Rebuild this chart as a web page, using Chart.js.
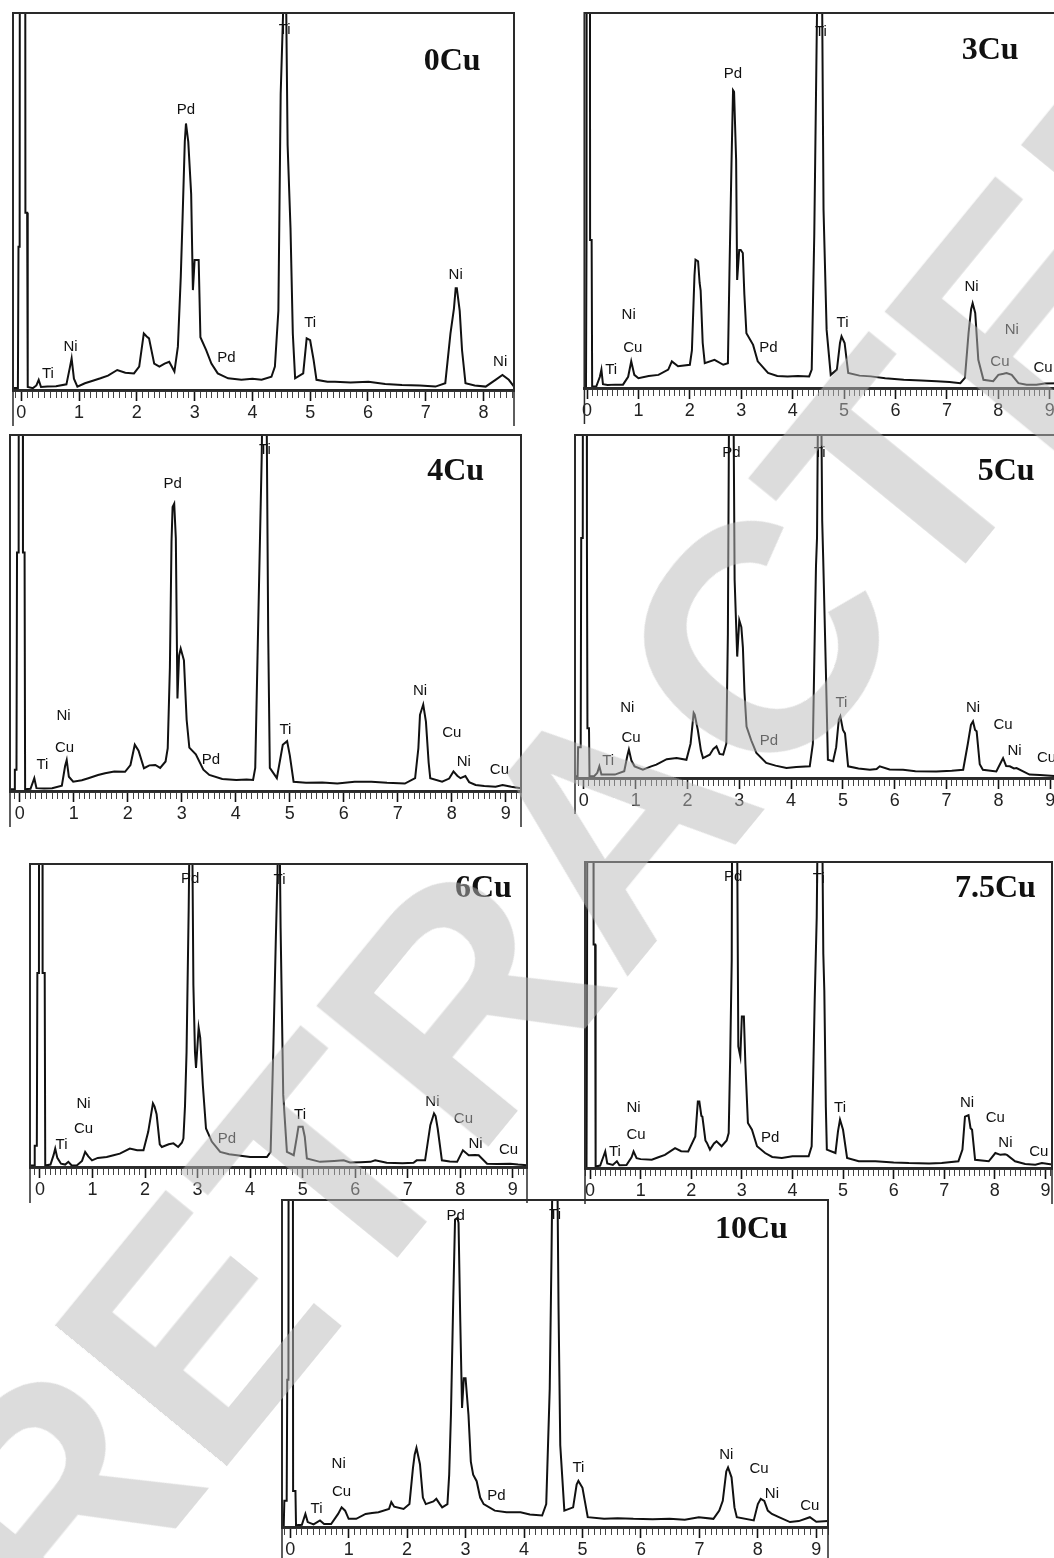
<!DOCTYPE html>
<html>
<head>
<meta charset="utf-8">
<script src="https://cdn.jsdelivr.net/npm/chart.js@4.4.1/dist/chart.umd.min.js"></script>
<style>
  body { margin: 0; width: 1054px; height: 1558px; position: relative; overflow: hidden; background: #fff; }
  .panel { position: absolute; }
  .panel canvas { display: block; }
  #watermark {
    position: absolute; left: 610px; top: 822px;
    transform: translate(-50%, -50%) rotate(-50.7deg);
    font-family: "Liberation Sans", Arial, sans-serif; font-weight: bold; font-size: 323px;
    color: rgba(185, 185, 185, 0.5); white-space: nowrap; pointer-events: none; line-height: 1;
  }
</style>
</head>
<body>
<div class="panel" id="p0"><canvas id="c0"></canvas></div>
<div class="panel" id="p1"><canvas id="c1"></canvas></div>
<div class="panel" id="p2"><canvas id="c2"></canvas></div>
<div class="panel" id="p3"><canvas id="c3"></canvas></div>
<div class="panel" id="p4"><canvas id="c4"></canvas></div>
<div class="panel" id="p5"><canvas id="c5"></canvas></div>
<div class="panel" id="p6"><canvas id="c6"></canvas></div>
<div id="watermark">RETRACTED</div>
<script>
// EDS spectra, [energy keV, counts] (100 = top of the box, higher peaks are cut)
const spec0Cu = [[-0.145,0.5],[-0.06,0.5],[-0.05,38],[-0.03,38],[-0.02,300],[0.06,300],[0.07,47],[0.1,47],[0.11,0.8],[0.2,0.5],[0.26,1.2],[0.3,2.7],[0.34,0.8],[0.45,0.9],[0.6,1],[0.78,1.5],[0.84,6],[0.87,8.4],[0.91,3],[0.97,0.9],[1.1,1.8],[1.25,2.5],[1.37,3.1],[1.5,3.8],[1.66,5.3],[1.8,4.6],[1.95,4.4],[2.04,6.2],[2.12,15],[2.17,14.2],[2.21,13.7],[2.3,7],[2.39,6.2],[2.48,7],[2.56,7.5],[2.65,4.9],[2.71,11.5],[2.76,30],[2.79,45],[2.83,66],[2.85,70.7],[2.89,65.8],[2.94,52],[2.97,26.5],[3.0,34.5],[3.07,34.5],[3.1,14],[3.2,10.6],[3.29,7],[3.4,4.4],[3.58,3.1],[3.81,2.7],[4.0,3],[4.16,2.7],[4.33,3.5],[4.39,6.2],[4.45,21],[4.49,78.6],[4.53,99],[4.56,130],[4.58,110],[4.61,65],[4.66,43],[4.7,15],[4.74,3.1],[4.88,4.4],[4.94,13.7],[5.0,13.2],[5.06,8],[5.11,2.7],[5.3,2.2],[5.43,2.2],[5.7,2],[6.01,2.2],[6.3,1.6],[6.59,1.3],[6.9,1.2],[7.17,0.9],[7.34,1.8],[7.43,15],[7.49,21.6],[7.52,27],[7.54,27],[7.59,21],[7.63,10.6],[7.69,1.8],[7.85,1.2],[8.04,0.9],[8.21,2.7],[8.33,4],[8.44,2.7],[8.53,0.9]];
const spec3Cu = [[-0.05,0.4],[-0.02,0.4],[-0.01,39.5],[0.0,300],[0.05,300],[0.06,39.5],[0.09,39.5],[0.1,0.4],[0.18,0.4],[0.25,3],[0.28,4.9],[0.31,1],[0.4,0.8],[0.55,0.9],[0.7,0.9],[0.8,3],[0.86,7.1],[0.92,3.5],[1.0,2.6],[1.2,3.2],[1.39,3.5],[1.58,4.9],[1.65,7.1],[1.77,5.8],[2.0,6.2],[2.04,10],[2.09,30],[2.11,34.2],[2.16,33.8],[2.19,28],[2.21,26],[2.25,12],[2.29,6.6],[2.48,7.5],[2.65,6.2],[2.74,6.6],[2.77,30.6],[2.81,60],[2.84,79.4],[2.86,79],[2.9,60.8],[2.92,28.8],[2.96,36.8],[2.99,36.8],[3.03,36],[3.06,25],[3.1,14.6],[3.23,11.5],[3.32,7.1],[3.52,4],[3.7,3.2],[3.9,3.1],[4.1,3.2],[4.32,3.1],[4.37,4.9],[4.42,41],[4.46,85.6],[4.5,130],[4.56,130],[4.6,47.5],[4.66,15.5],[4.74,3.5],[4.86,4.9],[4.92,12],[4.95,13.8],[5.01,12],[5.08,4],[5.3,3.3],[5.52,3.1],[5.8,2.6],[6.16,2.2],[6.5,2],[6.8,1.8],[7.05,1.6],[7.26,1.3],[7.35,2.7],[7.42,14.6],[7.47,21],[7.5,22.6],[7.55,20],[7.61,7.5],[7.71,2.2],[7.9,1.8],[8.0,3.5],[8.1,3.8],[8.16,4],[8.26,3.5],[8.39,1.3],[8.55,0.9],[8.74,0.9],[8.9,1.2],[9.16,1.3]];
const spec4Cu = [[-0.18,0.5],[-0.1,0.5],[-0.09,6],[-0.06,6],[-0.05,67],[-0.02,67],[-0.01,300],[0.05,300],[0.06,67],[0.09,67],[0.1,0.5],[0.2,0.6],[0.27,3.6],[0.31,0.8],[0.45,0.7],[0.6,0.8],[0.78,1.5],[0.84,7],[0.87,8.7],[0.91,4],[0.99,2.6],[1.15,3],[1.27,3.6],[1.45,4.5],[1.58,5],[1.75,5.5],[1.95,5.4],[2.05,7.3],[2.13,13],[2.2,11.3],[2.3,6.4],[2.4,7.2],[2.51,7.3],[2.6,6.5],[2.7,8.3],[2.74,12],[2.78,34.6],[2.81,70],[2.83,79.8],[2.86,80.7],[2.89,71],[2.92,26],[2.95,38],[2.98,40],[3.04,36.7],[3.09,20],[3.14,12.2],[3.26,10.3],[3.4,6],[3.51,4.5],[3.75,3.4],[4.01,3.1],[4.2,3.2],[4.32,3.1],[4.36,6.5],[4.43,58],[4.48,94],[4.51,130],[4.56,130],[4.6,44],[4.63,6.5],[4.76,3.6],[4.87,13],[4.95,14],[5.0,10],[5.07,2.6],[5.3,2.3],[5.6,2.4],[5.88,2.1],[6.2,2.6],[6.51,2.6],[6.8,2.3],[7.13,2.1],[7.32,3.6],[7.38,12],[7.41,21.4],[7.47,24.3],[7.52,19.5],[7.57,8],[7.6,3.6],[7.82,2.6],[7.95,3.5],[8.03,5.5],[8.1,4.3],[8.16,3.6],[8.25,4.2],[8.32,2.5],[8.44,1.7],[8.6,1.4],[8.81,1.2],[8.94,1.7],[9.1,1.2],[9.28,0.8]];
const spec5Cu = [[-0.17,0.5],[-0.12,0.5],[-0.11,9],[-0.06,9],[-0.05,70],[-0.02,70],[-0.01,300],[0.05,300],[0.06,70],[0.07,14.5],[0.1,14.5],[0.11,0.5],[0.2,0.5],[0.26,1.5],[0.3,3.4],[0.34,1],[0.45,1],[0.6,1],[0.78,2],[0.84,6.5],[0.87,8.3],[0.92,5],[0.98,3.4],[1.14,2.4],[1.3,3.4],[1.4,3.9],[1.6,5.5],[1.79,5.8],[1.98,5.3],[2.06,10],[2.12,19],[2.14,18.5],[2.2,14],[2.26,8],[2.3,5.8],[2.43,6.8],[2.5,8.5],[2.56,9.2],[2.62,7],[2.69,6.8],[2.75,10],[2.78,42],[2.81,130],[2.88,130],[2.91,57.8],[2.96,35.4],[3.0,46],[3.04,44],[3.07,38],[3.1,25],[3.14,15],[3.23,11],[3.33,7.3],[3.52,4.4],[3.7,3.6],[3.91,2.9],[4.1,3.2],[4.36,3.4],[4.42,10],[4.46,45],[4.48,61.7],[4.5,70],[4.53,130],[4.57,130],[4.6,75],[4.62,63.6],[4.67,32],[4.71,5.3],[4.81,4.9],[4.87,9],[4.92,17],[4.95,18],[5.0,14],[5.04,13],[5.1,3.4],[5.3,2.8],[5.52,2.4],[5.65,2.6],[5.71,3.4],[5.9,2.5],[6.16,2.4],[6.4,2],[6.8,1.9],[7.1,2.1],[7.32,2.4],[7.41,10],[7.47,15.5],[7.51,16.5],[7.55,14],[7.58,13.6],[7.64,4],[7.7,2.4],[7.96,1.9],[8.03,4],[8.09,5.8],[8.15,3.5],[8.22,3.4],[8.3,2.8],[8.35,2.9],[8.6,1],[8.8,0.9],[9.15,0.5]];
const spec6Cu = [[-0.19,0.5],[-0.11,0.5],[-0.1,7],[-0.06,7],[-0.05,64],[-0.02,64],[-0.01,300],[0.04,300],[0.05,64],[0.09,64],[0.1,0.5],[0.2,0.8],[0.26,4],[0.29,6.1],[0.33,3],[0.4,1.1],[0.48,0.8],[0.54,1.7],[0.6,0.6],[0.7,0.5],[0.8,2],[0.86,5],[0.92,3.5],[0.99,2.2],[1.1,3],[1.27,3.3],[1.4,3.9],[1.52,4.4],[1.71,6.1],[1.85,5.5],[1.97,5.5],[2.06,11.6],[2.15,21],[2.18,20],[2.22,17.4],[2.28,7.5],[2.32,6.6],[2.45,7.5],[2.54,7.8],[2.63,6.6],[2.7,8],[2.73,9.4],[2.76,20],[2.79,38],[2.83,84.7],[2.86,130],[2.89,130],[2.92,60],[2.95,38],[2.97,32.7],[3.02,46],[3.05,42.6],[3.1,27],[3.16,12.7],[3.27,8.4],[3.43,5],[3.6,4.2],[3.75,3.9],[4.0,3.3],[4.32,3.3],[4.39,5],[4.44,38],[4.49,75.9],[4.52,95.8],[4.55,130],[4.56,130],[4.58,79],[4.63,23.8],[4.7,5],[4.83,3.9],[4.89,10],[4.92,13.3],[5.0,13.3],[5.04,10],[5.08,2.8],[5.33,1.7],[5.6,2],[5.78,2.2],[5.9,1.5],[6.1,1.6],[6.29,1.7],[6.38,2.2],[6.6,1.4],[6.9,1.2],[7.11,1.4],[7.17,2.2],[7.33,2.2],[7.43,13.8],[7.5,17.7],[7.53,16.8],[7.57,12.7],[7.65,2.2],[7.8,1.8],[7.94,1.7],[8.05,5.5],[8.16,3.9],[8.28,4],[8.35,3.9],[8.51,1.1],[8.7,1],[8.95,1.1],[9.1,0.8],[9.27,0.6]];
const spec7_5Cu = [[-0.1,0.5],[-0.07,0.5],[-0.06,58],[-0.05,58],[-0.04,300],[0.06,300],[0.07,73],[0.1,73],[0.11,0.5],[0.2,0.8],[0.27,4],[0.3,5.4],[0.34,1.5],[0.45,1],[0.53,2.2],[0.58,0.9],[0.72,1],[0.82,3.5],[0.86,5.4],[0.92,3.2],[1.0,2.9],[1.22,2.7],[1.35,3.5],[1.48,4.3],[1.68,6.5],[1.8,5.5],[1.94,5.4],[2.08,10.3],[2.13,21.7],[2.16,21.7],[2.2,17],[2.22,16.8],[2.28,9],[2.31,8.2],[2.37,6],[2.45,8],[2.5,8.7],[2.6,7.1],[2.7,9],[2.74,11.4],[2.77,36.4],[2.8,68],[2.81,130],[2.9,130],[2.93,39.7],[2.97,36.4],[3.0,49.5],[3.04,49.5],[3.07,34],[3.12,14.7],[3.2,12.5],[3.3,7.1],[3.46,4.9],[3.6,3.6],[3.79,3.3],[4.0,3.8],[4.32,3.8],[4.38,7.1],[4.41,30],[4.44,54.9],[4.48,82],[4.51,130],[4.58,130],[4.61,70],[4.63,58],[4.66,20],[4.68,6],[4.85,4.9],[4.9,12],[4.94,15.8],[5.0,12.5],[5.08,3.3],[5.31,2.2],[5.64,2.2],[6.0,1.8],[6.3,1.6],[6.7,1.5],[6.95,1.6],[7.28,2.2],[7.36,6],[7.41,16.8],[7.48,17.3],[7.52,13],[7.55,12.5],[7.61,2.7],[7.88,2.2],[8.01,4.9],[8.11,4.3],[8.2,4.5],[8.24,4.3],[8.4,2.2],[8.6,1.3],[8.8,1.1],[8.93,1.6],[9.13,1.1]];
const spec10Cu = [[-0.14,0.5],[-0.11,0.5],[-0.1,8],[-0.06,8],[-0.05,45],[-0.03,45],[-0.02,300],[0.04,300],[0.05,11],[0.09,11],[0.1,0.5],[0.2,0.7],[0.26,4],[0.3,1.5],[0.4,0.8],[0.51,2],[0.58,0.9],[0.7,0.9],[0.82,4],[0.88,6],[0.94,5],[1.0,2.5],[1.13,2.5],[1.29,4],[1.4,4.3],[1.51,4.5],[1.69,5.5],[1.73,7.6],[1.78,6.2],[1.94,5.5],[2.04,7],[2.1,18],[2.13,22.2],[2.16,24.2],[2.22,19.2],[2.27,9],[2.32,7],[2.45,7.8],[2.5,8.6],[2.56,7],[2.6,6],[2.69,7],[2.72,16],[2.75,34.3],[2.79,70],[2.82,94],[2.86,94.5],[2.88,93],[2.91,62.6],[2.94,36.4],[2.97,45.5],[3.0,45.5],[3.05,34.3],[3.09,20],[3.13,16],[3.19,14],[3.25,9],[3.31,7],[3.5,5],[3.7,4.5],[3.94,4.5],[4.1,3.8],[4.31,3.5],[4.38,7],[4.44,42.4],[4.47,82.8],[4.5,130],[4.56,130],[4.59,67.7],[4.62,25],[4.69,5],[4.84,6],[4.9,13],[4.93,14.1],[5.0,12],[5.04,8],[5.09,3],[5.37,2.5],[5.6,2.7],[5.87,2.5],[6.2,2.4],[6.49,2.5],[6.75,2.2],[6.99,3],[7.24,2.5],[7.34,5],[7.4,8],[7.46,17],[7.49,18.2],[7.55,15.2],[7.6,6],[7.64,3],[7.93,2],[8.0,7],[8.05,8.6],[8.11,8],[8.17,5],[8.24,4],[8.36,3],[8.55,1.5],[8.7,1.8],[8.89,3],[9.0,1.6],[9.2,1.8]];

// peak labels: [text, energy, counts]
const peaks0Cu = [['Ti',0.46,4.4],['Ni',0.85,11.5],['Pd',2.85,74.2],['Pd',3.55,8.4],['Ti',4.56,95.4],['Ti',5.0,17.8],['Ni',7.52,30.5],['Ni',8.29,7.5]];
const peaks3Cu = [['Ti',0.47,4.9],['Ni',0.81,19.5],['Cu',0.89,10.6],['Pd',2.84,83.7],['Pd',3.53,10.6],['Ti',4.55,95],['Ti',4.97,17.5],['Ni',7.48,26.9],['Ni',8.26,15.4],['Cu',8.03,7.1],['Cu',8.87,5.3]];
const peaks4Cu = [['Ti',0.42,7.3],['Ni',0.81,21],['Cu',0.83,12],['Pd',2.83,86.4],['Pd',3.54,8.7],['Ti',4.54,95.8],['Ti',4.92,17.2],['Ni',7.41,28],['Cu',8.0,16.3],['Ni',8.22,8.3],['Cu',8.88,5.9]];
const peaks5Cu = [['Ti',0.47,4.9],['Ni',0.84,20.4],['Cu',0.91,11.7],['Pd',2.85,94.7],['Pd',3.57,10.7],['Ti',4.55,94.7],['Ti',4.97,21.8],['Ni',7.51,20.4],['Cu',8.09,15.5],['Ni',8.31,7.8],['Cu',8.93,5.8]];
const peaks6Cu = [['Ti',0.41,7.2],['Ni',0.83,21],['Cu',0.83,12.7],['Pd',2.86,95.2],['Pd',3.56,9.4],['Ti',4.56,94.7],['Ti',4.95,17.2],['Ni',7.47,21.6],['Cu',8.06,16],['Ni',8.29,7.8],['Cu',8.92,5.5]];
const peaks7_5Cu = [['Ti',0.49,5.4],['Ni',0.86,19.6],['Cu',0.91,10.9],['Pd',2.83,95.1],['Pd',3.56,9.8],['Ti',4.52,94.6],['Ti',4.94,19.6],['Ni',7.45,21.2],['Cu',8.01,16.3],['Ni',8.21,8.2],['Cu',8.87,5.4]];
const peaks10Cu = [['Ti',0.45,5.6],['Ni',0.83,19.2],['Cu',0.88,10.6],['Pd',2.83,95.2],['Pd',3.53,9.6],['Ti',4.53,95.5],['Ti',4.93,18.2],['Ni',7.46,22.2],['Cu',8.02,17.7],['Ni',8.24,10.1],['Cu',8.89,6.6]];

const sampleNames = ['0Cu', '3Cu', '4Cu', '5Cu', '6Cu', '7.5Cu', '10Cu'];
// where each sample name sits, [energy, counts]
const namePos = [[7.46,87],[7.84,90],[8.07,89.6],[8.15,89.3],[8.44,91.9],[8.01,91.3],[7.89,90.9]];
const spectra = [spec0Cu, spec3Cu, spec4Cu, spec5Cu, spec6Cu, spec7_5Cu, spec10Cu];
const peakLabels = [peaks0Cu, peaks3Cu, peaks4Cu, peaks5Cu, peaks6Cu, peaks7_5Cu, peaks10Cu];
const energyMin = [-0.145, -0.05, -0.18, -0.17, -0.19, -0.1, -0.14];
const energyMax = [8.53, 9.16, 9.28, 9.15, 9.27, 9.13, 9.2];

// page layout of each plot box: left, top, right, baseline
const boxes = [
    [13, 13, 514, 390],
    [583, 13, 1058, 388],
    [10, 435, 521, 791],
    [575, 435, 1058, 778],
    [30, 864, 527, 1167],
    [585, 862, 1052, 1168],
    [282, 1200, 828, 1527],
];
const STRIP = 36;
const PAD = 2;

const near = (v, step) => Math.abs(v / step - Math.round(v / step)) < 1e-6;

const framePlugin = {
    id: 'frame',
    afterDraw(chart) {
        const { ctx, chartArea: a } = chart;
        ctx.save();
        ctx.strokeStyle = '#2a2a2a';
        ctx.lineWidth = 2;
        ctx.strokeRect(a.left, a.top, a.right - a.left, a.bottom - a.top);
        ctx.lineWidth = 1.5;
        ctx.beginPath();
        ctx.moveTo(a.left, a.bottom);
        ctx.lineTo(a.left, chart.height);
        ctx.moveTo(a.right, a.bottom);
        ctx.lineTo(a.right, chart.height);
        ctx.stroke();
        ctx.restore();
    }
};

const labelPlugin = {
    id: 'peakLabels',
    afterDatasetsDraw(chart, args, opts) {
        const { ctx, scales: { x, y } } = chart;
        ctx.save();
        ctx.textAlign = 'center';
        ctx.textBaseline = 'middle';
        ctx.fillStyle = '#111';
        ctx.font = '15px "Liberation Sans", Arial, sans-serif';
        for (const [t, e, c] of opts.labels) {
            ctx.fillText(t, x.getPixelForValue(e), y.getPixelForValue(c));
        }
        ctx.font = 'bold 32px "Liberation Serif", "Times New Roman", serif';
        ctx.fillText(opts.name, x.getPixelForValue(opts.namePos[0]), y.getPixelForValue(opts.namePos[1]));
        ctx.restore();
    }
};

spectra.forEach((spec, i) => {
    const [l, t, r, b] = boxes[i];
    const div = document.getElementById('p' + i);
    const canvas = document.getElementById('c' + i);
    div.style.left = (l - PAD) + 'px';
    div.style.top = (t - PAD) + 'px';
    canvas.width = r - l + 2 * PAD;
    canvas.height = b - t + PAD + STRIP;

    new Chart(canvas, {
        type: 'line',
        data: {
            datasets: [{
                data: spec,
                borderColor: '#111',
                borderWidth: 2,
                pointRadius: 0,
                tension: 0,
                fill: false,
            }]
        },
        options: {
            responsive: false,
            animation: false,
            layout: { padding: { top: PAD, left: PAD, right: PAD, bottom: 0 } },
            scales: {
                x: {
                    type: 'linear',
                    min: energyMin[i],
                    max: energyMax[i],
                    afterFit: s => { s.height = STRIP; },
                    border: { display: true, color: '#333', width: 3 },
                    grid: {
                        drawOnChartArea: false,
                        drawTicks: true,
                        tickLength: 11,
                        tickColor: c => near(c.tick.value, 1) ? '#111' : (near(c.tick.value, 0.1) ? '#444' : 'rgba(0,0,0,0)'),
                        tickWidth: c => near(c.tick.value, 1) ? 1.6 : 1,
                        // minor ticks only half as long
                        tickBorderDash: c => near(c.tick.value, 1) ? [] : [6, 30],
                    },
                    ticks: {
                        stepSize: 0.1,
                        autoSkip: false,
                        includeBounds: false,
                        maxRotation: 0,
                        padding: 1,
                        color: '#222',
                        font: { family: '"Liberation Sans", Arial, sans-serif', size: 18 },
                        callback: v => near(v, 1) ? String(Math.round(v)) : '',
                    },
                },
                y: { display: false, min: 0, max: 100 },
            },
            plugins: {
                legend: { display: false },
                tooltip: { enabled: false },
                peakLabels: { labels: peakLabels[i], name: sampleNames[i], namePos: namePos[i] },
            },
        },
        plugins: [framePlugin, labelPlugin],
    });
});
</script>
</body>
</html>
